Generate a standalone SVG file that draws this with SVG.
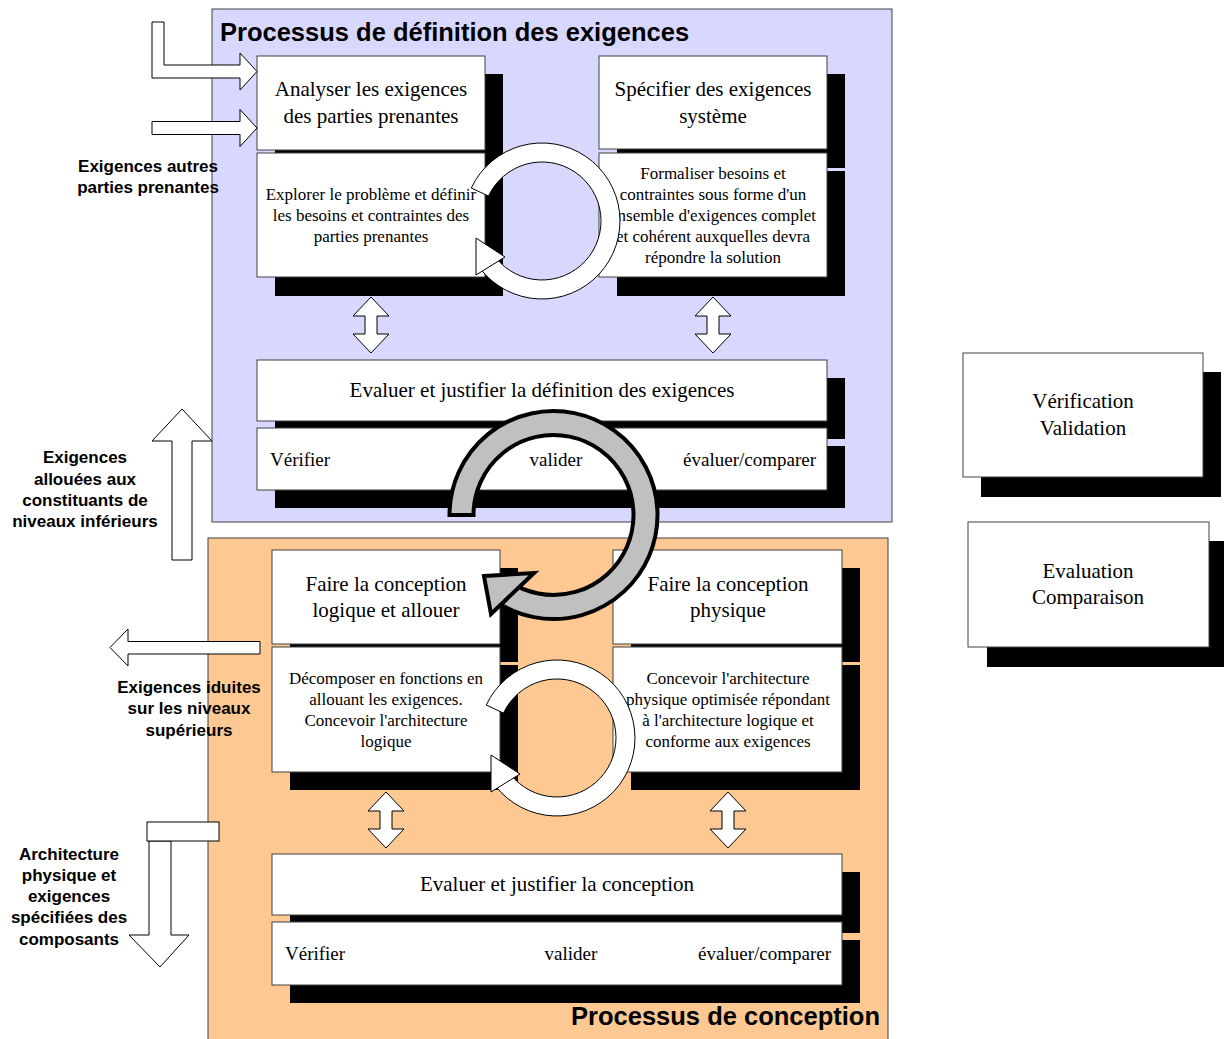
<svg xmlns="http://www.w3.org/2000/svg" xmlns:xlink="http://www.w3.org/1999/xlink" width="1224" height="1039" viewBox="0 0 1224 1039">
<style>
.panel{stroke:#404040;stroke-width:1}
.box{fill:#fff;stroke:#404040;stroke-width:1}
.sh{fill:#000}
.t{font-family:"Liberation Serif","Times New Roman",serif;fill:#000}
.big{font-size:21px}
.mid{font-size:19px}
.sm{font-size:17px}
.lbl{font-family:"Liberation Sans",Arial,sans-serif;font-weight:bold;font-size:17px;fill:#000;text-anchor:middle}
.title{font-family:"Liberation Sans",Arial,sans-serif;font-weight:bold;font-size:25.5px;fill:#000}
.c{text-anchor:middle}
.e{text-anchor:end}
.wa{fill:#fff;stroke:#000;stroke-width:1;stroke-linejoin:miter}
.ga{fill:#c0c0c0;stroke:#000;stroke-width:4;stroke-linejoin:miter}
</style>
<defs>
<g id="ring">
<path class="wa" d="M -70.7 -33.0 A 78 78 0 1 1 -61.5 48.0 L -46.5 36.3 A 59 59 0 1 0 -53.5 -24.9 Z"/>
<polygon class="wa" points="-66,17 -37,36 -66,54"/>
</g>
<polygon id="dbl" class="wa" points="0,0 18,19 6,19 6,37 18,37 0,56 -18,37 -6,37 -6,19 -18,19"/>
</defs>

<g id="panel-definition">
<rect class="panel" x="212" y="9" width="680" height="513" fill="#d8d8ff"/>
<text class="title" x="220" y="41">Processus de définition des exigences</text>
</g>
<g id="panel-conception">
<rect class="panel" x="208" y="538" width="680" height="510" fill="#fdc891"/>
<text class="title e" x="880" y="1025">Processus de conception</text>
</g>

<g id="node-analyser">
<rect class="sh" x="275" y="74" width="228" height="94"/>
<rect class="box" x="257" y="56" width="228" height="94"/>
<text class="t big c" x="371" y="96">Analyser les exigences</text>
<text class="t big c" x="371" y="123">des parties prenantes</text>
</g>
<g id="node-explorer">
<rect class="sh" x="275" y="171" width="228" height="125"/>
<rect class="box" x="257" y="153" width="228" height="124"/>
<text class="t sm c" x="371" y="200">Explorer le problème et définir</text>
<text class="t sm c" x="371" y="221">les besoins et contraintes des</text>
<text class="t sm c" x="371" y="242">parties prenantes</text>
</g>
<g id="node-specifier">
<rect class="sh" x="617" y="74" width="228" height="94"/>
<rect class="box" x="599" y="56" width="228" height="93"/>
<text class="t big c" x="713" y="96">Spécifier des exigences</text>
<text class="t big c" x="713" y="123">système</text>
</g>
<g id="node-formaliser">
<rect class="sh" x="617" y="171" width="228" height="125"/>
<rect class="box" x="599" y="153" width="228" height="124"/>
<text class="t sm c" x="713" y="179">Formaliser besoins et</text>
<text class="t sm c" x="713" y="200">contraintes sous forme d'un</text>
<text class="t sm c" x="713" y="221">ensemble d'exigences complet</text>
<text class="t sm c" x="713" y="242">et cohérent auxquelles devra</text>
<text class="t sm c" x="713" y="263">répondre la solution</text>
</g>
<g id="node-evaluer-def">
<rect class="sh" x="275" y="378" width="570" height="61"/>
<rect class="box" x="257" y="360" width="570" height="61"/>
<text class="t big c" x="542" y="397">Evaluer et justifier la définition des exigences</text>
</g>
<g id="node-verifier-def">
<rect class="sh" x="275" y="446" width="570" height="62"/>
<rect class="box" x="257" y="428" width="570" height="62"/>
<text class="t mid" x="270" y="466">Vérifier</text>
<text class="t mid c" x="556" y="466">valider</text>
<text class="t mid e" x="816" y="466">évaluer/comparer</text>
</g>

<g id="node-logique">
<rect class="sh" x="290" y="568" width="228" height="94"/>
<rect class="box" x="272" y="550" width="228" height="94"/>
<text class="t big c" x="386" y="591">Faire la conception</text>
<text class="t big c" x="386" y="617">logique et allouer</text>
</g>
<g id="node-decomposer">
<rect class="sh" x="290" y="665" width="228" height="125"/>
<rect class="box" x="272" y="647" width="228" height="125"/>
<text class="t sm c" x="386" y="684">Décomposer en fonctions en</text>
<text class="t sm c" x="386" y="705">allouant les exigences.</text>
<text class="t sm c" x="386" y="726">Concevoir l'architecture</text>
<text class="t sm c" x="386" y="747">logique</text>
</g>
<g id="node-physique">
<rect class="sh" x="631" y="568" width="229" height="94"/>
<rect class="box" x="613" y="550" width="229" height="94"/>
<text class="t big c" x="728" y="591">Faire la conception</text>
<text class="t big c" x="728" y="617">physique</text>
</g>
<g id="node-concevoir">
<rect class="sh" x="631" y="665" width="229" height="125"/>
<rect class="box" x="613" y="647" width="229" height="125"/>
<text class="t sm c" x="728" y="684">Concevoir l'architecture</text>
<text class="t sm c" x="728" y="705">physique optimisée répondant</text>
<text class="t sm c" x="728" y="726">à l'architecture logique et</text>
<text class="t sm c" x="728" y="747">conforme aux exigences</text>
</g>
<g id="node-evaluer-conc">
<rect class="sh" x="290" y="872" width="570" height="61"/>
<rect class="box" x="272" y="854" width="570" height="61"/>
<text class="t big c" x="557" y="891">Evaluer et justifier la conception</text>
</g>
<g id="node-verifier-conc">
<rect class="sh" x="290" y="940" width="570" height="63"/>
<rect class="box" x="272" y="922" width="570" height="63"/>
<text class="t mid" x="285" y="960">Vérifier</text>
<text class="t mid c" x="571" y="960">valider</text>
<text class="t mid e" x="831" y="960">évaluer/comparer</text>
</g>

<g id="node-verification">
<rect class="sh" x="981" y="372" width="240" height="125"/>
<rect class="box" x="963" y="353" width="240" height="124"/>
<text class="t big c" x="1083" y="408">Vérification</text>
<text class="t big c" x="1083" y="435">Validation</text>
</g>
<g id="node-evaluation">
<rect class="sh" x="987" y="541" width="240" height="126"/>
<rect class="box" x="968" y="522" width="241" height="125"/>
<text class="t big c" x="1088" y="578">Evaluation</text>
<text class="t big c" x="1088" y="604">Comparaison</text>
</g>

<g id="connectors">
<use xlink:href="#dbl" x="371" y="297"/>
<use xlink:href="#dbl" x="713" y="297"/>
<use xlink:href="#dbl" x="386" y="792"/>
<use xlink:href="#dbl" x="728" y="792"/>
<polygon class="wa" points="152,22 164,22 164,65 240,65 240,53 257,71.5 240,90 240,78 152,78"/>
<polygon class="wa" points="152,121.5 240,121.5 240,109.5 257,128 240,146.5 240,134.5 152,134.5"/>
<polygon class="wa" points="172,560 172,441 152,441 182,409 212,441 192,441 192,560"/>
<polygon class="wa" points="260,641.5 128,641.5 128,629 110,647.5 128,666 128,654 260,654"/>
<polygon class="wa" points="149,841 171,841 171,935 189,935 160,967 129,935 149,935"/>
<rect class="wa" x="147" y="822" width="72" height="19"/>
<use xlink:href="#ring" transform="translate(542,221)"/>
<use xlink:href="#ring" transform="translate(557,738)"/>
<path class="ga" d="M 449.5 515 A 104 104 0 1 1 493.85 600.2 L 507.6 580.5 A 80 80 0 1 0 473.5 515 Z"/>
<polygon class="ga" points="484,576 534,573 491,614"/>
</g>

<g id="labels">
<text class="lbl" x="148" y="172">Exigences autres</text>
<text class="lbl" x="148" y="193">parties prenantes</text>
<text class="lbl" x="85" y="463">Exigences</text>
<text class="lbl" x="85" y="485">allouées aux</text>
<text class="lbl" x="85" y="506">constituants de</text>
<text class="lbl" x="85" y="527">niveaux inférieurs</text>
<text class="lbl" x="189" y="693">Exigences iduites</text>
<text class="lbl" x="189" y="714">sur les niveaux</text>
<text class="lbl" x="189" y="736">supérieurs</text>
<text class="lbl" x="69" y="860">Architecture</text>
<text class="lbl" x="69" y="881">physique et</text>
<text class="lbl" x="69" y="902">exigences</text>
<text class="lbl" x="69" y="923">spécifiées des</text>
<text class="lbl" x="69" y="945">composants</text>
</g>
</svg>
